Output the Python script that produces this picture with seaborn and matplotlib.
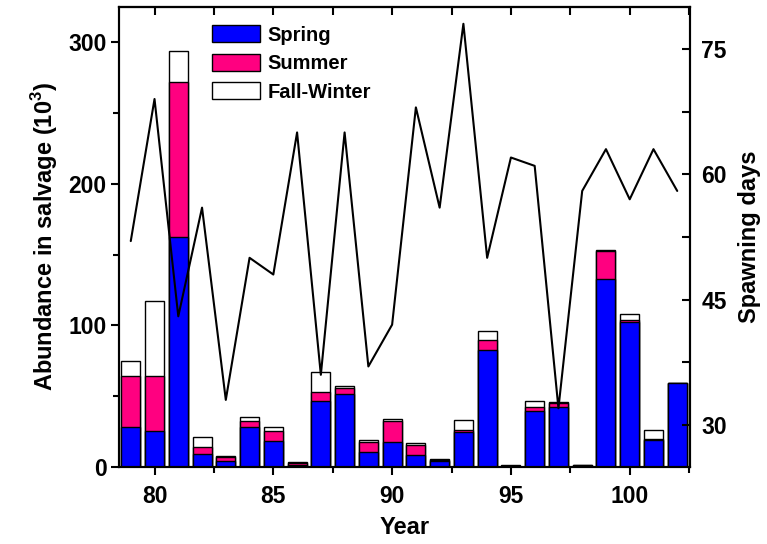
import numpy as np
import pandas as pd
import matplotlib
matplotlib.use("Agg")
import matplotlib.pyplot as plt
import seaborn as sns
from matplotlib.patches import Patch
from matplotlib.ticker import MultipleLocator

# годы (последние две цифры, 100 = 2000)
years = [79, 80, 81, 82, 83, 84, 85, 86, 87, 88, 89, 90,
         91, 92, 93, 94, 95, 96, 97, 98, 99, 100, 101, 102]

# численность по сезонам (10^3)
spring = [28.3, 25.5, 162.2, 9.0, 4.2, 27.8, 18.4, 1.2, 46.7, 51.4, 10.1, 17.2,
          8.5, 3.8, 24.3, 82.7, 0.5, 39.1, 42.4, 0.6, 132.7, 102.0, 18.9, 58.9]
summer = [35.6, 38.4, 109.8, 5.1, 2.4, 4.2, 7.1, 1.3, 5.8, 4.0, 7.1, 15.3,
          7.1, 1.2, 1.9, 7.1, 0.3, 3.3, 2.9, 0.4, 20.1, 1.7, 0.4, 0.0]
fall_winter = [11.1, 53.0, 22.0, 6.6, 0.7, 3.4, 2.8, 0.6, 14.7, 1.9, 1.7, 1.2,
               1.2, 0.7, 7.0, 5.9, 0.6, 3.8, 0.5, 0.3, 0.3, 4.3, 6.7, 0.0]

# число дней нереста
spawning_days = [52, 69, 43, 56, 33, 50, 48, 65, 36, 65, 37, 42,
                 68, 56, 78, 50, 62, 61, 32, 58, 63, 57, 63, 58]

df = pd.DataFrame({"year": years, "spring": spring, "summer": summer,
                   "fall": fall_winter, "days": spawning_days})
df["s1"] = df["spring"]
df["s2"] = df["spring"] + df["summer"]
df["s3"] = df["s2"] + df["fall"]

sns.set_style("ticks", {"text.color": "black", "axes.labelcolor": "black",
                        "xtick.color": "black", "ytick.color": "black",
                        "axes.edgecolor": "black"})
plt.rcParams["font.family"] = ["Liberation Sans", "DejaVu Sans"]
plt.rcParams["font.weight"] = "bold"
plt.rcParams["mathtext.fontset"] = "custom"
plt.rcParams["mathtext.bf"] = "Liberation Sans:bold"
plt.rcParams["mathtext.rm"] = "Liberation Sans:bold"

blue = "#0000FF"
pink = "#FF0080"

fig = plt.figure(figsize=(7.67, 5.44), dpi=100)
ax = fig.add_axes([0.155, 0.142, 0.745, 0.845])

# складываем столбцы: сначала полная высота, потом перекрываем
for col, color in [("s3", "white"), ("s2", pink), ("s1", blue)]:
    sns.barplot(data=df, x="year", y=col, native_scale=True, width=0.8,
                color=color, edgecolor="black", linewidth=1.0,
                saturation=1, ax=ax, errorbar=None)

ax.set_xlim(78.5, 102.55)
ax.set_ylim(0, 325)
ax.xaxis.set_minor_locator(MultipleLocator(2.5))
ax.yaxis.set_major_locator(MultipleLocator(100))
ax.yaxis.set_minor_locator(MultipleLocator(50))
ax.set_xticks([80, 85, 90, 95, 100])
ax.set_xticklabels(["80", "85", "90", "95", "100"])
ax.tick_params(axis="both", which="major", direction="out", length=6,
               width=1.5, labelsize=16.5, pad=3)
ax.tick_params(axis="x", which="major", pad=7)
ax.tick_params(axis="both", which="minor", direction="out", length=4, width=1.5)
for sp in ax.spines.values():
    sp.set_linewidth(1.5)
ax.set_xlabel("Year", fontsize=17, fontweight="bold", labelpad=6)
ax.set_ylabel(r"Abundance in salvage (10$^{\mathbf{3}}$)", fontsize=17,
              fontweight="bold", labelpad=6)

# верхние риски внутрь
secx = ax.secondary_xaxis("top")
secx.xaxis.set_major_locator(MultipleLocator(2.5))
secx.tick_params(direction="in", length=6, width=1.5, labelsize=0)
secx.set_xticklabels([])
secx.spines["top"].set_linewidth(1.5)

ax2 = ax.twinx()
sns.lineplot(data=df, x="year", y="days", color="black", linewidth=1.5, ax=ax2)
ax2.set_ylim(25, 80)
ax2.yaxis.set_minor_locator(MultipleLocator(7.5))
ax2.set_yticks([30, 45, 60, 75])
ax2.tick_params(axis="y", which="major", direction="in", length=6,
                width=1.5, labelsize=16.5, pad=8)
ax2.tick_params(axis="y", which="minor", direction="in", length=6, width=1.5)
ax2.set_ylabel("Spawning days", fontsize=17, fontweight="bold", labelpad=8)
ax2.set_xlabel("")
for sp in ax2.spines.values():
    sp.set_linewidth(1.5)

handles = [Patch(facecolor=blue, edgecolor="black", label="Spring"),
           Patch(facecolor=pink, edgecolor="black", label="Summer"),
           Patch(facecolor="white", edgecolor="black", label="Fall-Winter")]
ax.legend(handles=handles, loc="upper left", bbox_to_anchor=(0.135, 0.995),
          frameon=False, prop={"size": 14.5, "weight": "bold"},
          handlelength=2.4, handleheight=0.9, labelspacing=0.45,
          handletextpad=0.35, borderpad=0.3)

fig.savefig("out.png", dpi=100)
